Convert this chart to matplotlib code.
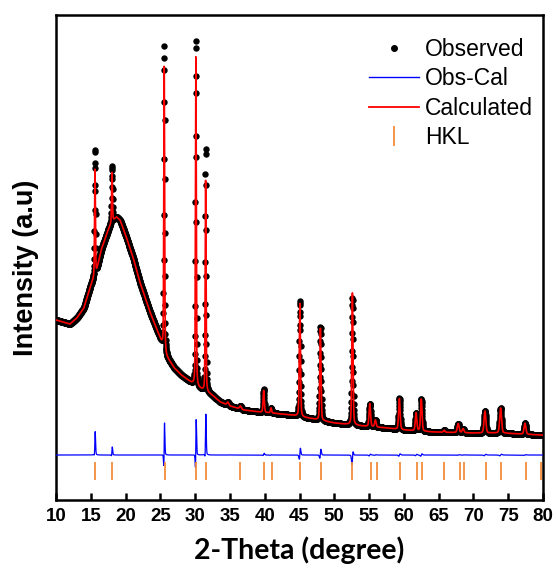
import numpy as np
import matplotlib
matplotlib.use("Agg")
import matplotlib.pyplot as plt
from matplotlib.lines import Line2D

# background of the refined pattern (2-theta, intensity)
bg_tt = [10, 11, 12, 13, 14, 15, 15.8, 16.5, 17.5, 18.0, 18.7, 19.2, 20, 21.1,
         22, 23.5, 24.9, 25.3, 25.9, 27, 28, 29.5, 30.5, 32.4, 33.6, 35, 37,
         39.3, 41, 43.7, 47, 50, 54, 57.6, 60, 64.3, 70, 74, 79.6, 80]
bg_int = [180, 178, 176, 182, 192, 215, 228, 250, 270, 278, 283, 280, 265, 242,
          219, 188, 163, 155, 143, 132, 125, 117, 112, 105, 98, 94, 90,
          88, 87, 85, 81, 77, 74, 72, 70, 68, 67, 67, 65, 65]

# reflections: position, calculated height, observed height, fwhm
pk_tt = [15.6, 18.05, 25.55, 30.1, 31.5, 34.7, 36.5, 39.85, 40.9, 45.05, 48.0,
         52.6, 55.1, 55.9, 59.35, 61.75, 62.5, 65.8, 67.8, 68.5, 71.65, 73.9, 77.4]
pk_calc = [106, 50, 288, 329, 211, 3, 3, 22, 5, 114, 92,
           132, 23, 7, 31, 18, 32, 2, 9, 4, 22, 25, 11]
pk_obs = [126, 56, 305, 347, 244, 3, 3, 23, 5, 116, 94,
          127, 23, 7, 31, 18, 32, 2, 9, 4, 22, 25, 11]
pk_fwhm = [0.14, 0.14, 0.14, 0.14, 0.14, 0.3, 0.3, 0.2, 0.2, 0.2, 0.2,
           0.2, 0.25, 0.25, 0.25, 0.25, 0.25, 0.25, 0.3, 0.3, 0.3, 0.3, 0.3]

# bragg positions (HKL markers)
hkl = [15.58, 18.07, 25.62, 30.09, 31.53, 36.5, 39.94, 41.05, 45.1, 48.1, 52.6,
       55.2, 56.1, 59.4, 61.83, 62.55, 65.77, 68.0, 68.7, 71.77, 73.97, 77.54, 79.7]

diff_offset = 45


def pv(x, x0, h, w, eta=0.3):
    g = np.exp(-4 * np.log(2) * ((x - x0) / w) ** 2)
    l = 1 / (1 + 4 * ((x - x0) / w) ** 2)
    return h * (eta * l + (1 - eta) * g)


tt = np.arange(10, 80.001, 0.02)
bg = np.interp(tt, bg_tt, bg_int)
calc = bg.copy()
obs = bg.copy()
for x0, hc, ho, w in zip(pk_tt, pk_calc, pk_obs, pk_fwhm):
    calc += pv(tt, x0, hc, w)
    obs += pv(tt, x0 + 0.007, ho, w)
diff = obs - calc + diff_offset

fig = plt.figure(figsize=(5.58, 5.79), dpi=100)
ax = fig.add_axes([0.1004, 0.1364, 0.8728, 0.8377])

ax.plot(tt, obs, 'o', color='black', ms=4.6, mew=0, zorder=2)
ax.plot(tt, calc, '-', color='#ff0000', lw=1.2, zorder=3)
ax.plot(tt, diff, '-', color='#0000ff', lw=0.9, zorder=3)
ax.vlines(hkl, 20, 38, color='#f28e3c', lw=1.3, zorder=3)

ax.set_xlim(10, 80)
ax.set_ylim(0, 485)
ax.set_xticks(np.arange(10, 81, 5))
ax.set_yticks([])
for s in ax.spines.values():
    s.set_linewidth(1.8)
ax.tick_params(axis='x', direction='in', length=5, width=1.8, pad=6)
for t in ax.get_xticklabels():
    t.set_fontfamily('Liberation Sans')
    t.set_fontweight('bold')
    t.set_fontsize(13.5)

ax.set_xlabel('2-Theta (degree)', fontfamily='Lato', fontweight='bold',
              fontsize=20.5, labelpad=8)
ax.set_ylabel('Intensity (a.u)', fontfamily='Liberation Sans', fontweight='bold',
              fontsize=19.5)
ax.yaxis.set_label_coords(-0.034, 0.478)

handles = [
    Line2D([], [], ls='', marker='o', color='black', ms=4),
    Line2D([], [], color='#0000ff', lw=1.0),
    Line2D([], [], color='#ff0000', lw=1.3),
    Line2D([], [], ls='', marker='|', color='#f28e3c', ms=15, mew=1.3),
]
labels = ['Observed', 'Obs-Cal', 'Calculated', 'HKL']
ax.legend(handles, labels, loc='upper left', bbox_to_anchor=(0.6, 0.995),
          frameon=False, prop={'family': 'Liberation Sans', 'size': 16.5},
          handlelength=2.2, handletextpad=0.25, labelspacing=0.28)

fig.savefig('out.png', dpi=100)
